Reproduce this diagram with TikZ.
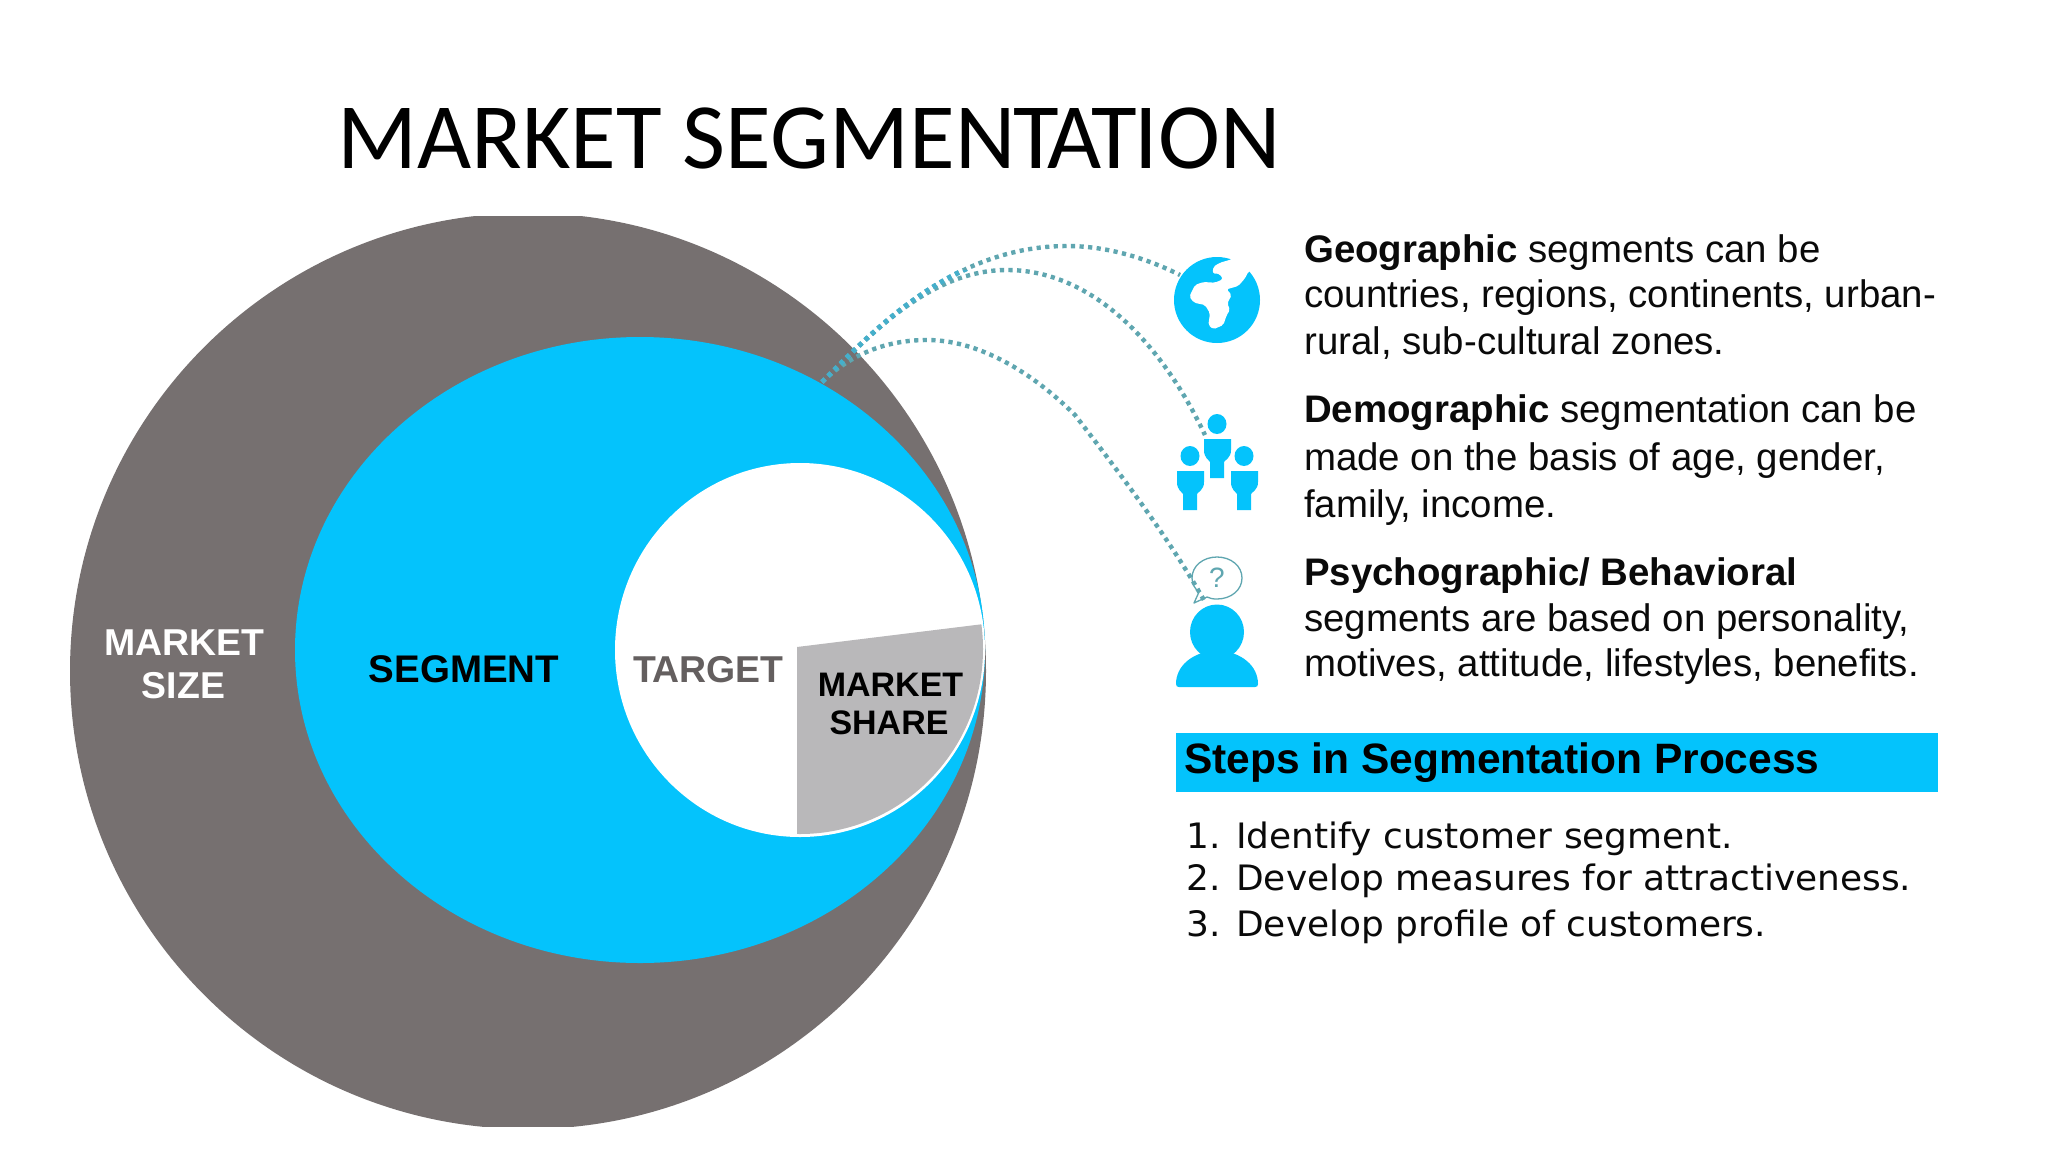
\documentclass[tikz,border=0pt]{standalone}
\usepackage{fontspec}
\setmainfont{Liberation Sans}
\newfontfamily\titlefont{Carlito}
\newfontfamily\stepfont{DejaVu Sans}
\definecolor{mgray}{HTML}{767070}
\definecolor{mblue}{HTML}{04C3FC}
\definecolor{wedge}{HTML}{B9B8BA}
\definecolor{dotc}{HTML}{5FA6B0}
\definecolor{dotd}{HTML}{45AFCB}
\definecolor{ink}{HTML}{0A0A0A}
\tikzset{
  lab/.style={font=\fontsize{37.4}{37}\selectfont\bfseries,align=center,inner sep=0pt,text height=27pt,text depth=0pt},
  smalllab/.style={lab,text=black,font=\fontsize{34}{34}\selectfont\bfseries},
  para/.style={font=\fontsize{38.4}{46}\selectfont,anchor=base west,inner sep=0pt,text=ink},
  stepline/.style={font=\stepfont\fontsize{35}{35}\selectfont,anchor=base west,inner sep=0pt,text=ink,xscale=1.027,transform shape},
  dots/.style={draw=dotc,line width=4.4pt,dash pattern=on 4.2pt off 4.4pt},
  dotsb/.style={draw=dotd,line width=5pt,dash pattern=on 4.2pt off 4.4pt},
  figure/.pic={
    \fill[mblue] (0,0) ellipse [x radius=9.5,y radius=10];
    \fill[mblue] (-13,15) -- (14,15) -- (14,26) .. controls (14,34) and (8,36) .. (7,38) -- (7,54) -- (-7,54) -- (-7,38) .. controls (-8,36) and (-13,34) .. (-13,26) -- cycle;
  }
}
\begin{document}
\begin{tikzpicture}[x=1pt,y=-1pt]
\useasboundingbox (0,0) rectangle (2048,1152);
\fill[white] (0,0) rectangle (2048,1152);
% circles
\begin{scope}
\clip (0,216) rectangle (1100,1126);
\fill[mgray] (528,671) ellipse [x radius=458,y radius=458];
\end{scope}
\fill[mblue] (640,650) ellipse [x radius=345,y radius=313];
\fill[white] (800,650) ellipse [x radius=185,y radius=187];
\begin{scope}
\clip (797,647) -- (1000,622) -- (1000,900) -- (797,900) -- cycle;
\fill[wedge] (800,649) ellipse [x radius=183,y radius=185];
\end{scope}
\coordinate (src) at (822,382);
\coordinate (geotop) at (1067,246);
\coordinate (demotop) at (1007,270);
\coordinate (psytop) at (927,340);
\coordinate (geoend) at (1180,275);
\coordinate (demoend) at (1205,435);
\coordinate (psyend) at (1205,602);
% curves
\draw[dots] (src) .. controls (870,335) and (950,246) .. (geotop) .. controls (1110,246) and (1150,260) .. (geoend);
\draw[dots] (src) .. controls (870,335) and (930,270) .. (demotop) .. controls (1090,270) and (1160,340) .. (demoend);
\draw[dots] (src) .. controls (850,355) and (885,340) .. (psytop) .. controls (985,340) and (1040,380) .. (1075,415) .. controls (1125,480) and (1170,540) .. (psyend);
\begin{scope}
\clip (800,270) rectangle (972,400);
\draw[dotsb] (src) .. controls (870,335) and (950,246) .. (geotop);
\end{scope}
% title
\node[font=\titlefont\fontsize{93.5}{98}\selectfont,anchor=base west,inner sep=0pt] (title) at (337,168) {MARKET SEGMEN\kern-2pt T\kern-11pt A\kern-11pt T\kern-2pt ION};
% circle labels
\node[lab,text=white] (msize1) at (184,642) {MARKET};
\node[lab,text=white] (msize2) at (183.5,685) {SIZE};
\node[lab,text=black,font=\fontsize{38.5}{38}\selectfont\bfseries] (seg) at (464,669) {SEGMENT};
\node[lab,text=mgray!85!black] (targ) at (708,669) {T\kern-4pt ARGET};
\node[smalllab] (ms1) at (890.5,683) {MARKET};
\node[smalllab] (ms2) at (889,721) {SHARE};
% globe
\fill[mblue] (1217,300) circle [radius=43];
\fill[white,rounded corners=2pt] (1231.7,259.3) -- (1220,262.7) -- (1213.3,266.7) -- (1212.7,273.3) -- (1220,274) -- (1222.7,279.3) -- (1215,282.7) -- (1203.3,282) -- (1195,285) -- (1189.3,296.7) -- (1194,302.7) -- (1205,305) -- (1210,313.3) -- (1208.3,325) -- (1213.3,329.3) -- (1223.3,325) -- (1226.7,315) -- (1230,310) -- (1227.3,303.3) -- (1231.7,295) -- (1226.7,289.3) -- (1238.3,286) -- (1245,278.3) -- (1248.3,271.7) -- (1264,262) -- (1240,250) -- cycle;
% people
\pic at (1217,424) {figure};
\pic at (1190,456) {figure};
\pic at (1244,456) {figure};
% bubble
\draw[dotc,line width=1.3pt,line join=round] (1207,597) .. controls (1210,598.5) and (1213,599) .. (1217,599) .. controls (1231,599) and (1242,590) .. (1242,578) .. controls (1242,566) and (1231,557) .. (1217,557) .. controls (1203,557) and (1192,566) .. (1192,578) .. controls (1192,584) and (1195,589) .. (1199,592) -- (1194,603) -- cycle;
\node[font=\fontsize{28}{28}\selectfont,text=dotc,inner sep=0pt] (qm) at (1217,578) {?};
% person
\fill[mblue] (1217,632) ellipse [x radius=27,y radius=27.5];
\fill[mblue] (1176,684) .. controls (1176,666) and (1192,652) .. (1217,650) .. controls (1242,652) and (1258,666) .. (1258,684) .. controls (1258,686) and (1257,687) .. (1255,687) -- (1179,687) .. controls (1177,687) and (1176,686) .. (1176,684) -- cycle;
% paragraphs
\node[para] (g1) at (1304,262) {\textbf{Geographic} segments can be};
\node[para] (g2) at (1304,307) {countries, regions, continents, urban-};
\node[para] (g3) at (1304,354) {rural, sub-cultural zones.};
\node[para] (d1) at (1304,422) {\textbf{Demographic} segmentation can be};
\node[para] (d2) at (1304,470) {made on the basis of age, gender,};
\node[para] (d3) at (1304,517) {family\kern-4pt, income.};
\node[para] (p1) at (1304,585.5) {\textbf{Psychographic/ Behavioral}};
\node[para] (p2) at (1304,631) {segments are based on personality,};
\node[para] (p3) at (1304,676) {motives, attitude, lifestyles, benefits.};
% bar
\fill[mblue] (1176,733) rectangle (1938,792);
\node[font=\fontsize{42.5}{42}\selectfont\bfseries,anchor=base west,inner sep=0pt,text=black] (stp) at (1184,773) {Steps in Segmentation Process};
\node[stepline] (s1n) at (1186,848) {1.};
\node[stepline] (s1) at (1236,848) {Identify customer segment.};
\node[stepline] (s2n) at (1186,890) {2.};
\node[stepline] (s2) at (1236,890) {Develop measures for attractiveness.};
\node[stepline] (s3n) at (1186,936) {3.};
\node[stepline] (s3) at (1236,936) {Develop profile of customers.};
\end{tikzpicture}
\end{document}
